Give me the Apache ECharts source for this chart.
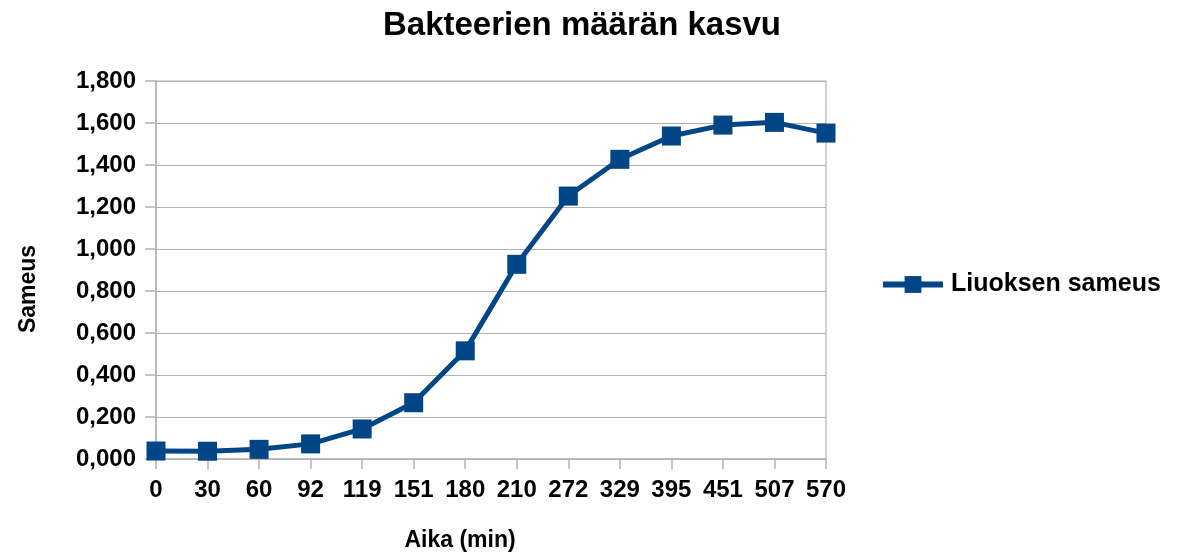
<!DOCTYPE html>
<html><head><meta charset="utf-8">
<script src="https://cdn.jsdelivr.net/npm/echarts@6/dist/echarts.min.js"></script>
<style>html,body{margin:0;padding:0;background:#fff}#c{width:1180px;height:555px}</style>
</head><body><div id="c"></div>
<script>
const categories = ['0','30','60','92','119','151','180','210','272','329','395','451','507','570'];
const sameus = [0.038,0.037,0.046,0.072,0.143,0.268,0.515,0.927,1.252,1.427,1.538,1.590,1.603,1.552];
const seriesName = 'Liuoksen sameus';
const chartTitle = 'Bakteerien määrän kasvu';
const xTitle = 'Aika (min)';
const yTitle = 'Sameus';

const ff = '"Liberation Sans", Arial, sans-serif';
const gridCol = '#b3b3b3';
const chart = echarts.init(document.getElementById('c'), null, {renderer:'canvas'});
chart.setOption({
  animation:false,
  backgroundColor:'#fff',
  title:{text:chartTitle,left:577,top:4,textAlign:'center',
    textStyle:{fontFamily:ff,fontWeight:'bold',fontSize:33,color:'#000'}},
  legend:{orient:'vertical',top:272,left:880,padding:0,
    itemWidth:60,itemHeight:21,itemGap:0,
    lineStyle:{width:6,color:'#004586'},
    textStyle:{fontFamily:ff,fontWeight:'bold',fontSize:25,color:'#000',padding:[0,0,0,3]},
    data:[seriesName]},
  graphic:[
    {type:'text',x:460,y:541,style:{text:xTitle,fontFamily:ff,fontWeight:'bold',fontSize:23,fill:'#000',align:'center',verticalAlign:'middle'}},
    {type:'text',x:29,y:289,rotation:Math.PI/2,style:{text:yTitle,fontFamily:ff,fontWeight:'bold',fontSize:23,fill:'#000',align:'center',verticalAlign:'middle'}}
  ],
  grid:{left:156,right:354,top:81,bottom:96,containLabel:false,show:true,borderColor:gridCol,borderWidth:1.2,backgroundColor:'transparent'},
  xAxis:{type:'category',data:categories,boundaryGap:false,
    axisLine:{lineStyle:{color:gridCol,width:1.5}},
    axisTick:{show:true,length:10,lineStyle:{color:gridCol,width:1.5}},
    axisLabel:{fontFamily:ff,fontWeight:'bold',fontSize:24,color:'#000',margin:19,interval:0},
    splitLine:{show:false}
  },
  yAxis:{type:'value',min:0,max:1.8,interval:0.2,
    axisLine:{show:true,lineStyle:{color:gridCol,width:1.5}},
    axisTick:{show:true,length:11,lineStyle:{color:gridCol,width:1.5}},
    axisLabel:{fontFamily:ff,fontWeight:'bold',fontSize:24,color:'#000',margin:20,
      formatter:v=>v.toFixed(3).replace('.',',')},
    splitLine:{show:true,lineStyle:{color:gridCol,width:1.2}}
  },
  series:[{name:seriesName,type:'line',data:sameus,
    symbol:'rect',symbolSize:19,
    lineStyle:{color:'#004586',width:5},
    itemStyle:{color:'#004586'}}]
});
</script></body></html>
